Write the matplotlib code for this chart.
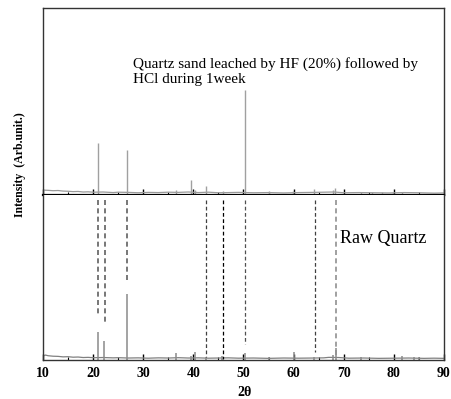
import matplotlib.pyplot as plt
from matplotlib.ticker import MultipleLocator

plt.rcParams['font.family'] = ['Liberation Serif', 'DejaVu Serif']

# top trace: HF + HCl leached sand (percent of panel height)
top_base_x = [10, 11, 12, 13, 14, 15, 16, 17, 18, 19, 20, 22, 24, 25, 27, 29, 31, 33, 35, 37,
              39, 41, 43, 45, 47, 49, 52, 55, 58, 61, 64, 66, 68, 70, 73, 76, 79, 82, 85, 88, 90]
top_base_y = [2.6, 2.5, 2.3, 2.4, 2.1, 2.0, 1.8, 1.9, 1.6, 1.7, 1.5, 1.6, 1.3, 1.5, 1.4, 1.2, 1.4, 1.3, 1.5, 1.4,
              1.6, 1.3, 1.5, 1.2, 1.3, 1.4, 1.2, 1.3, 1.1, 1.3, 1.4, 1.5, 1.6, 1.2, 1.3, 1.2, 1.1, 1.3, 1.2, 1.0, 1.1]
top_peak_x = [20.95, 26.75, 36.6, 39.55, 40.3, 42.6, 45.9, 50.25, 55.0, 59.9, 64.1, 67.8, 68.25,
              73.5, 75.7, 77.7, 79.9, 81.6]
top_peak_y = [27.6, 24.0, 2.5, 8.0, 2.6, 5.0, 2.0, 56.0, 2.0, 2.0, 3.0, 2.5, 3.8,
              1.8, 1.8, 1.8, 1.8, 1.6]

# bottom trace: raw quartz
bot_base_x = [10, 10.5, 11, 12, 13, 14, 15, 16, 17, 18, 19, 20, 22, 24, 25, 27, 29, 31, 33, 35, 37,
              39, 41, 43, 45, 47, 49, 52, 55, 58, 61, 64, 66, 67, 69, 71, 74, 77, 80, 83, 86, 88, 90]
bot_base_y = [2.4, 3.0, 2.6, 2.3, 2.2, 1.9, 2.0, 1.7, 1.8, 1.5, 1.6, 1.4, 1.5, 1.3, 1.4, 1.2, 1.3, 1.1, 1.3, 1.2, 1.4,
              1.2, 1.3, 1.1, 1.2, 1.3, 1.1, 1.2, 1.0, 1.2, 1.1, 1.2, 1.3, 1.6, 1.5, 1.1, 1.2, 1.0, 1.1, 1.2, 1.0, 1.1, 1.0]
bot_peak_x = [21.0, 22.2, 26.8, 36.6, 39.5, 40.3, 42.5, 45.8, 50.2, 55.0, 60.1, 64.1, 67.8, 68.4,
              73.5, 81.6, 84.0, 85.0]
bot_peak_y = [17.0, 11.7, 40.0, 4.4, 2.5, 5.0, 2.0, 2.5, 4.0, 2.0, 5.0, 2.0, 3.0, 7.0,
              2.0, 2.5, 2.0, 1.8]

# reference lines linking the two patterns
ref_x = [21.0, 22.4, 26.8, 42.6, 45.9, 50.2, 64.2, 68.4]
ref_low = [26.7, 23.2, 46.7, 2.0, 0.6, 9.7, 5.0, 3.0]
ref_color = ['#606060', '#606060', '#606060', '#404040', '#000000', '#505050', '#404040', '#909090']

fig = plt.figure(figsize=(4.52, 3.99), dpi=100)
ax_top = fig.add_axes([43 / 452, 1 - 195 / 399, 401 / 452, 187 / 399])
ax_bot = fig.add_axes([43 / 452, 1 - 360 / 399, 401 / 452, 165 / 399])

ax_top.plot(top_base_x, top_base_y, color='#999999', lw=0.9)
ax_top.vlines(top_peak_x, 0, top_peak_y, color='#a0a0a0', lw=1.0)
ax_bot.plot(bot_base_x, bot_base_y, color='#808080', lw=0.9)
ax_bot.vlines(bot_peak_x, 0, bot_peak_y, color='#8a8a8a', lw=1.1)

for x, lo, c in zip(ref_x, ref_low, ref_color):
    ax_bot.plot([x, x], [97, lo], color=c, lw=1.2 if c in ('#606060', '#909090') else 0.9,
                dashes=(3, 2))

for ax in (ax_top, ax_bot):
    ax.set_xlim(10, 90)
    ax.set_ylim(0, 100)
    ax.set_yticks([])
    ax.xaxis.set_major_locator(MultipleLocator(10))
    ax.xaxis.set_minor_locator(MultipleLocator(5))
    ax.tick_params(axis='x', which='major', direction='in', length=4, width=1, color='black')
    ax.tick_params(axis='x', which='minor', direction='in', length=2, width=0.8, color='black')
    for s in ax.spines.values():
        s.set_color('#333333')
        s.set_linewidth(1.0)

ax_top.tick_params(axis='x', labelbottom=False)
ax_top.spines['bottom'].set_linewidth(1.6)
ax_top.spines['bottom'].set_color('black')
ax_bot.spines['top'].set_visible(False)

for lab in ax_bot.get_xticklabels():
    lab.set_fontweight('bold')
    lab.set_fontsize(10)
ax_bot.tick_params(axis='x', pad=5)

ax_top.text(133 / 452, 1 - 68 / 399, 'Quartz sand leached by HF (20%) followed by',
            transform=fig.transFigure, fontsize=11, ha='left', va='baseline')
ax_top.text(133 / 452, 1 - 83 / 399, 'HCl during 1week',
            transform=fig.transFigure, fontsize=11, ha='left', va='baseline')
ax_bot.text(340 / 452, 1 - 243 / 399, 'Raw Quartz',
            transform=fig.transFigure, fontsize=13, ha='left', va='baseline')

fig.text(20.5 / 452, 1 - 165 / 399, 'Intensity  (Arb.unit.)', rotation=90,
         fontsize=8.5, fontweight='bold', ha='center', va='center')
fig.text(245 / 452, 1 - 393 / 399, '2θ', fontsize=10, fontweight='bold',
         ha='center', va='center')

fig.savefig('out.png', dpi=100)
